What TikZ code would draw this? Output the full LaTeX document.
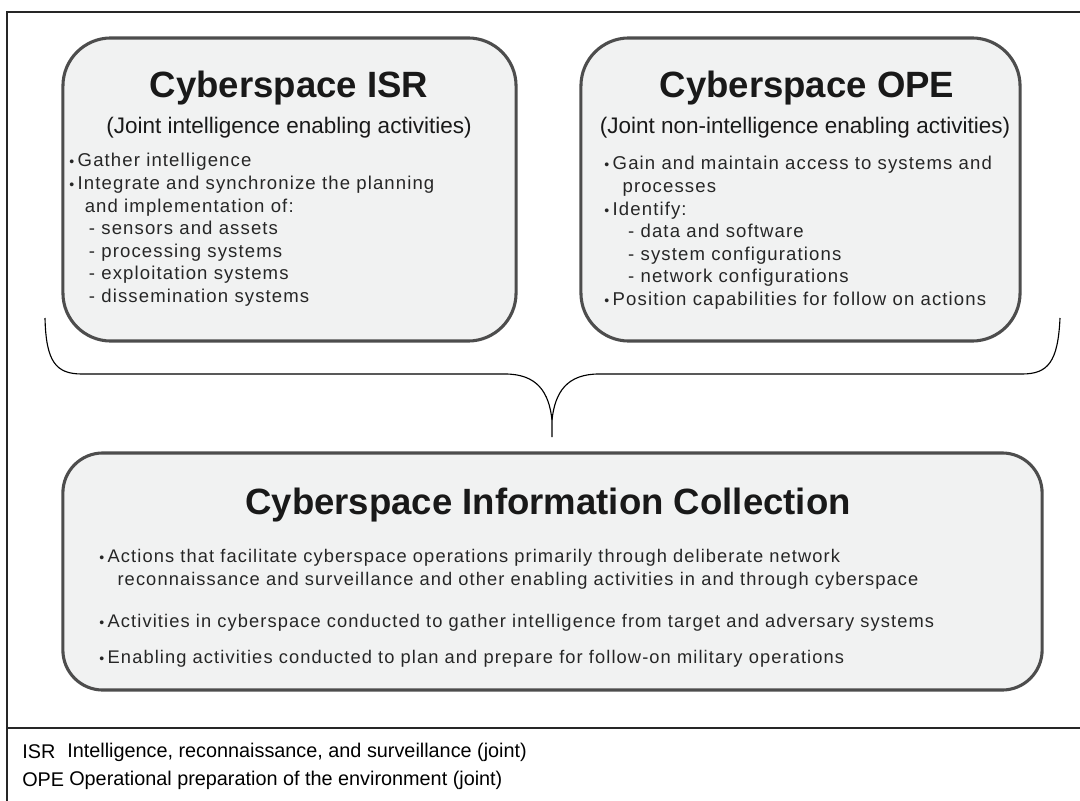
\documentclass[tikz,border=0pt]{standalone}
\usepackage{fontspec}
\setmainfont{Liberation Sans}
\newfontfamily\listfont[LetterSpace=6]{Liberation Sans}
\usepackage{tikz}
\usetikzlibrary{positioning}
\definecolor{boxfill}{HTML}{F1F2F2}
\definecolor{boxline}{HTML}{4D4D4D}
\newcommand{\bul}{{\fontsize{10}{10}\selectfont\textbullet}\hspace{2.5pt}}

\begin{document}
\begin{tikzpicture}[x=0.025cm,y=-0.025cm,
  frame line/.style={line width=1.2pt, black!85},
  brace line/.style={line width=0.8pt, black},
  round box/.style={rectangle, rounded corners=1.2cm, draw=boxline,
  fill=boxfill, line width=2.2pt},
  box title/.style={font=\fontsize{26}{30}\selectfont\bfseries, text=black!90},
  box sub/.style={font=\fontsize{16}{19}\selectfont, text=black!90},
  box list/.style={inner sep=0pt, align=left,
  font=\listfont\fontsize{13.2}{16.1}\selectfont, text=black!85},
  wide list/.style={box list, font=\listfont\fontsize{13}{16.6}\selectfont},
  legend/.style={anchor=west, inner sep=0pt, font=\fontsize{14.1}{16}\selectfont}]
  \useasboundingbox (0,0) rectangle (1080,801);

  % outer frame and legend rule
  \coordinate (fTR) at (1080,12);
  \coordinate (fBL) at (7,801);
  \coordinate (sepL) at (7,728);
  \coordinate (sepR) at (1080,728);
  \draw[frame line] (fTR) -| (fBL);
  \draw[frame line] (sepL) -- (sepR);

  % the three boxes
  \node[round box, minimum width=11.325cm, minimum height=7.575cm] (ISR) at (289.5,189.5) {};
  \node[round box, minimum width=10.975cm, minimum height=7.575cm] (OPE) at (800.5,189.5) {};
  \node[round box, rounded corners=1cm, minimum width=24.475cm, minimum height=5.925cm] (IC) at (552.5,571.5) {};

  \node[box title] (isrT) at (289,88) {Cyberspace ISR};
  \node[box sub] (isrS) at (289,128) {(Joint intelligence enabling activities)};
  \node[box list, anchor=north west] (isrL) at (69,153) {\bul Gather intelligence\\
    \bul Integrate and synchronize the planning\\
    \hspace{11pt}and implementation of:\\
    \hspace{14pt}- sensors and assets\\
    \hspace{14pt}- processing systems\\
    \hspace{14pt}- exploitation systems\\
    \hspace{14pt}- dissemination systems};

  \node[box title] (opeT) at (807,88) {Cyberspace OPE};
  \node[box sub] (opeS) at (805,128) {(Joint non-intelligence enabling activities)};
  \node[box list, anchor=north west] (opeL) at (604,156) {\bul Gain and maintain access to systems and\\
    \hspace{13pt}processes\\
    \bul Identify:\\
    \hspace{17pt}- data and software\\
    \hspace{17pt}- system configurations\\
    \hspace{17pt}- network configurations\\
    \bul Position capabilities for follow on actions};

  \node[box title] (icT) at (548,505) {Cyberspace Information Collection};
  \node[wide list, anchor=north west] (icA) at (99,549) {\bul Actions that facilitate cyberspace operations primarily through deliberate network\\
    \hspace{13pt}reconnaissance and surveillance and other enabling activities in and through cyberspace};
  \node[wide list, anchor=west] (icB) at (99,623) {\bul Activities in cyberspace conducted to gather intelligence from target and adversary systems};
  \node[wide list, anchor=west] (icC) at (99,659) {\bul Enabling activities conducted to plan and prepare for follow-on military operations};

  % brace joining the two upper boxes to the lower one
  \coordinate (braceL) at (45,318);
  \coordinate (braceTip) at (552,437);
  \coordinate (braceR) at (1060,318);
  \draw[brace line] (braceL) .. controls (46,362) and (56,374) .. (82,374) -- (505,374)
    .. controls (537,374) and (549,392) .. (552,420) -- (braceTip);
  \draw[brace line] (552,420) .. controls (555,392) and (567,374) .. (599,374) -- (1022,374)
    .. controls (1048,374) and (1058,362) .. (braceR);

  % legend
  \node[legend] (abbISR) at (22,752) {ISR};
  \node[legend] (defISR) at (67,752) {Intelligence, reconnaissance, and surveillance (joint)};
  \node[legend] (abbOPE) at (22,780) {OPE};
  \node[legend] (defOPE) at (69,780) {Operational preparation of the environment (joint)};
\end{tikzpicture}
\end{document}
